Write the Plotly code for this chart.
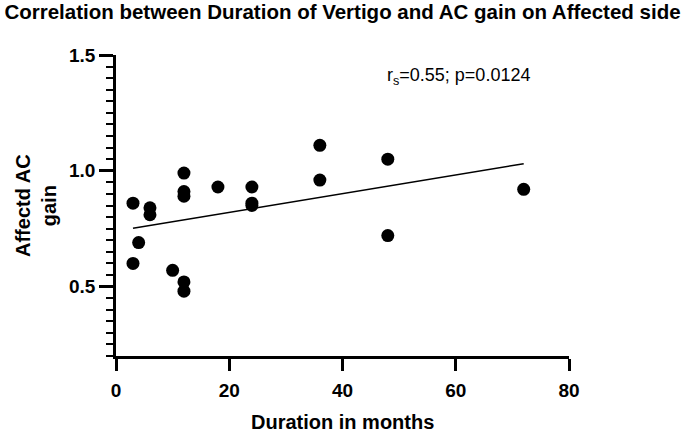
import numpy as np
import plotly.graph_objects as go

# Data
duration_months = [3, 3, 4, 6, 6, 10, 12, 12, 12, 12, 12, 18, 24, 24, 24, 36, 36, 48, 48, 72]
ac_gain = [0.86, 0.60, 0.69, 0.84, 0.81, 0.57, 0.52, 0.48, 0.99, 0.91, 0.89, 0.93,
           0.93, 0.86, 0.85, 1.11, 0.96, 1.05, 0.72, 0.92]
x_ticks = [0, 20, 40, 60, 80]
y_ticks = [0.5, 1.0, 1.5]
title_text = "Correlation between Duration of Vertigo and AC gain on Affected side"
stat_text = "r<sub>s</sub>=0.55; p=0.0124"

FONT = "Liberation Sans, Arial, sans-serif"

W, H = 685, 435

# Linear regression line computed from the data
slope, intercept = np.polyfit(duration_months, ac_gain, 1)
x_fit = np.array([min(duration_months), max(duration_months)])
y_fit = slope * x_fit + intercept

fig = go.Figure()
fig.add_trace(go.Scatter(
    x=x_fit, y=y_fit, mode="lines",
    line=dict(color="black", width=1.5),
    hoverinfo="skip", showlegend=False,
))
fig.add_trace(go.Scatter(
    x=duration_months, y=ac_gain, mode="markers",
    marker=dict(color="black", size=13),
    showlegend=False,
))

fig.update_layout(
    width=W, height=H,
    margin=dict(l=116, r=W - 569, t=55, b=H - 356),
    paper_bgcolor="white", plot_bgcolor="white",
    font=dict(family=FONT, color="black"),
    title=dict(
        text=title_text, x=0.5, xref="container", xanchor="center",
        y=1 - 12 / H, yref="container", yanchor="middle",
        font=dict(family=FONT, size=20.5, weight="bold", color="black"),
    ),
    xaxis=dict(
        range=[0, 80], tickvals=x_ticks, ticktext=[str(v) for v in x_ticks],
        showgrid=False, zeroline=False,
        showline=True, linecolor="black", linewidth=2.5,
        ticks="outside", ticklen=12, tickwidth=2.5, tickcolor="black",
        tickfont=dict(family=FONT, size=19, weight="bold", color="black"),
        ticklabelstandoff=3,
    ),
    yaxis=dict(
        range=[0.2, 1.5], tickvals=y_ticks, ticktext=["0.5", "1.0", "1.5"],
        showgrid=False, zeroline=False,
        showline=True, linecolor="black", linewidth=2.5,
        ticks="outside", ticklen=14, tickwidth=2.5, tickcolor="black",
        tickfont=dict(family=FONT, size=19, weight="bold", color="black"),
        minor=dict(dtick=0.05, tick0=0.5, ticks="outside", ticklen=7, tickwidth=2,
                   tickcolor="black", showgrid=False),
    ),
    annotations=[
        dict(text=stat_text, xref="paper", yref="paper",
             x=(385 - 116) / 453, y=(356 - 76) / 301,
             xanchor="left", yanchor="middle", showarrow=False,
             font=dict(family=FONT, size=18, color="black")),
        dict(text="Duration in months", xref="paper", yref="paper",
             x=0.5, y=(356 - 422) / 301, xanchor="center", yanchor="middle",
             showarrow=False,
             font=dict(family=FONT, size=20, weight="bold", color="black")),
        dict(text="Affectd AC<br>gain", xref="paper", yref="paper",
             x=(35.5 - 116) / 453, y=0.5, xanchor="center", yanchor="middle",
             textangle=-90, showarrow=False,
             font=dict(family=FONT, size=20, weight="bold", color="black")),
    ],
)

fig.write_html(
    "out.html",
    config={"displayModeBar": False},
    post_script="document.body.style.margin='0px';document.body.style.padding='0px';",
)
